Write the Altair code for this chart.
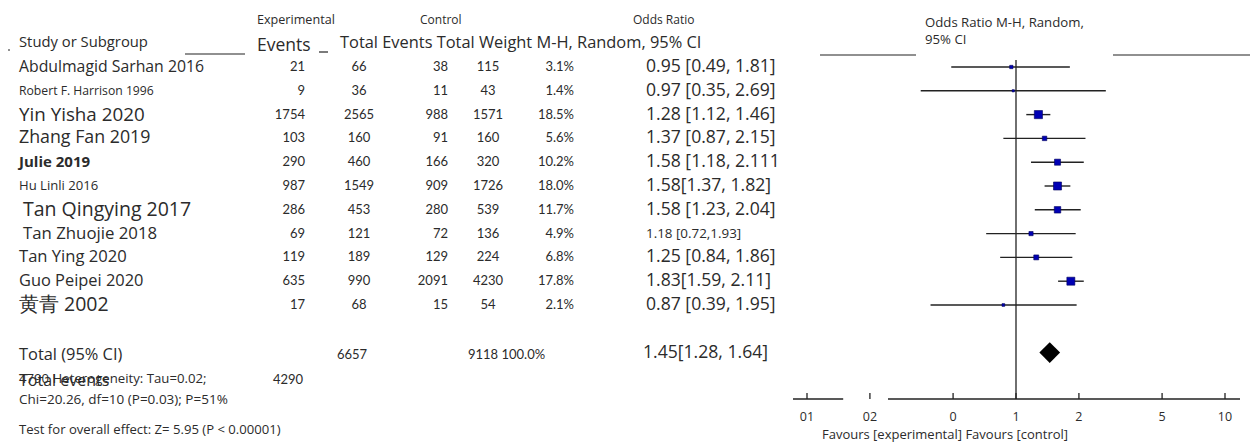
import altair as alt
import pandas as pd

# ---------------- data ----------------
studies = ["Abdulmagid Sarhan 2016", "Robert F. Harrison 1996", "Yin Yisha 2020", "Zhang Fan 2019",
           "Julie 2019", "Hu Linli 2016", "Tan Qingying 2017", "Tan Zhuojie 2018", "Tan Ying 2020",
           "Guo Peipei 2020", "黄青 2002"]
exp_events = [21, 9, 1754, 103, 290, 987, 286, 69, 119, 635, 17]
exp_total = [66, 36, 2565, 160, 460, 1549, 453, 121, 189, 990, 68]
ctl_events = [38, 11, 988, 91, 166, 909, 280, 72, 129, 2091, 15]
ctl_total = [115, 43, 1571, 160, 320, 1726, 539, 136, 224, 4230, 54]
weights = [3.1, 1.4, 18.5, 5.6, 10.2, 18.0, 11.7, 4.9, 6.8, 17.8, 2.1]
odds = [0.95, 0.97, 1.28, 1.37, 1.58, 1.58, 1.58, 1.18, 1.25, 1.83, 0.87]
ci_low = [0.49, 0.35, 1.12, 0.87, 1.18, 1.37, 1.23, 0.72, 0.84, 1.59, 0.39]
ci_high = [1.81, 2.69, 1.46, 2.15, 2.11, 1.82, 2.04, 1.93, 1.86, 2.11, 1.95]
or_labels = ["0.95 [0.49, 1.81]", "0.97 [0.35, 2.69]", "1.28 [1.12, 1.46]", "1.37 [0.87, 2.15]",
             "1.58 [1.18, 2.111", "1.58[1.37, 1.82]", "1.58 [1.23, 2.04]", "1.18 [0.72,1.93]",
             "1.25 [0.84, 1.86]", "1.83[1.59, 2.11]", "0.87 [0.39, 1.95]"]

total_exp_events = 4290
total_ctl_events = 4790
total_exp_total = 6657
total_ctl_total = 9118
total_or = 1.45
total_low = 1.28
total_high = 1.64
total_label = "1.45[1.28, 1.64]"

tick_values = [0.1, 0.2, 0.5, 1, 2, 5, 10]
tick_labels = ["01", "02", "0", "1", "2", "5", "10"]
axis_segments_from = [0.0857, 0.244]
axis_segments_to = [0.149, 11.8]

# ---------------- styles ----------------
FONT = "Open Sans"
NUMFONT = "Lato"
TXT = "#2b2b2b"
# (font size, weight, dx) for each study-name row
name_styles = [(15.8, "normal", 0), (12.2, "normal", 0), (18.8, "normal", 0), (17.8, "normal", 0),
               (15.0, "bold", 0), (13.1, "normal", 0), (19.5, "normal", 4), (16.8, "normal", 4),
               (16.6, "normal", 0), (16.4, "normal", 0), (19.5, "normal", 0)]
or_sizes = [17.6, 17.6, 17.6, 17.6, 17.6, 17.6, 17.6, 13.4, 17.6, 17.6, 17.6]

n = len(studies)
total_row = n + 2
df = pd.DataFrame({
    "row": list(range(1, n + 1)),
    "study": studies,
    "ee": [str(v) for v in exp_events],
    "et": [str(v) for v in exp_total],
    "ce": [str(v) for v in ctl_events],
    "ct": [str(v) for v in ctl_total],
    "w": [f"{v:.1f}%" for v in weights],
    "weight": weights,
    "or": odds,
    "lo": ci_low,
    "hi": ci_high,
    "orl": or_labels,
})
tot = pd.DataFrame({"row": [total_row], "or": [total_or], "lo": [total_low], "hi": [total_high],
                    "et": [str(total_exp_total)], "ctw": [f"{total_ctl_total} 100.0%"],
                    "orl": [total_label], "name": ["Total (95% CI)"]})

xs = alt.Scale(type="log", domain=[0.1, 10], range=[799, 1217])
ys = alt.Scale(domain=[1, total_row], range=[59, 344.6], zero=False, nice=False)
Y = alt.Y("row:Q", scale=ys, axis=None)


def col(data, field, x, align, size, font=NUMFONT, dy=0, weight="normal", dx=0):
    return alt.Chart(data).mark_text(align=align, baseline="middle", font=font, fontSize=size,
                                     color=TXT, dy=dy, dx=dx, fontWeight=weight).encode(
        x=alt.value(x), y=Y, text=f"{field}:N")


def label(text, x, y, size, align="left", font=FONT, weight="normal"):
    return alt.Chart(pd.DataFrame({"t": [text]})).mark_text(
        align=align, baseline="middle", font=font, fontSize=size, color=TXT, fontWeight=weight
    ).encode(x=alt.value(x), y=alt.value(y), text="t:N")


def hline(x1, x2, y, w=1.2):
    return alt.Chart(pd.DataFrame({"a": [0]})).mark_rule(color="#222", strokeWidth=w).encode(
        x=alt.value(x1), x2=alt.value(x2), y=alt.value(y))


layers = []
# headers
layers += [
    label("Experimental", 249, 12, 12.6),
    label("Control", 412, 12, 12),
    label("Odds Ratio", 625, 12, 12),
    label("Study or Subgroup", 11, 35, 14.8),
    label("Events", 249, 38, 17.5),
    label("Total Events Total Weight M-H, Random, 95% CI", 332, 35, 16.4),
    label("Odds Ratio M-H, Random,", 917, 15, 13.2),
    label("95% CI", 917, 32, 13.2),
    hline(0, 2, 42, 1),
    hline(177, 237, 46),
    hline(311, 320, 44),
    hline(812, 908, 47),
    hline(1105, 1242, 47),
]
# study table
for i, (fs, fw, dx) in enumerate(name_styles):
    sub = df[df["row"] == i + 1]
    layers.append(col(sub, "study", 11, "left", fs, font=FONT, weight=fw, dx=dx))
    layers.append(col(sub, "orl", 638, "left", or_sizes[i], font=FONT))
layers += [
    col(df, "ee", 297, "right", 13),
    col(df, "et", 351, "center", 13),
    col(df, "ce", 440, "right", 13),
    col(df, "ct", 480, "center", 13),
    col(df, "w", 566, "right", 13),
]
# totals
layers += [
    col(tot, "name", 11, "left", 16.4, font=FONT, dy=2),
    col(tot, "et", 344, "center", 13, dy=2),
    col(tot, "ctw", 460, "left", 13, dy=2),
    col(tot, "orl", 635, "left", 17.6, font=FONT),
    label(f"{total_ctl_events} Heterogeneity: Tau=0.02;", 11, 371, 13.2),
    label("Total events", 11, 373, 16),
    label(str(total_exp_events), 265, 372, 13, font=NUMFONT),
    label("Chi=20.26, df=10 (P=0.03); P=51%", 11, 392, 13.5),
    label("Test for overall effect: Z= 5.95 (P < 0.00001)", 11, 422, 13.1),
]
# forest plot
X = alt.X("or:Q", scale=xs, axis=None)
layers += [
    alt.Chart(pd.DataFrame({"v": [1]})).mark_rule(color="#222", strokeWidth=1.3).encode(
        x=alt.X("v:Q", scale=xs, axis=None), y=alt.value(52), y2=alt.value(391)),
    alt.Chart(df).mark_rule(color="#222", strokeWidth=1.4).encode(
        x=alt.X("lo:Q", scale=xs, axis=None), x2="hi:Q", y=Y),
    alt.Chart(df).mark_square(filled=True, color="#0000b4", stroke="#00005a", strokeWidth=0.6,
                              opacity=1).encode(
        x=X, y=Y, size=alt.Size("weight:Q", scale=alt.Scale(domain=[0, 20], range=[0, 72]), legend=None)),
    alt.Chart(tot).mark_point(shape="diamond", filled=True, color="black", size=430, opacity=1).encode(
        x=X, y=Y),
    # axis
    alt.Chart(pd.DataFrame({"a": axis_segments_from, "b": axis_segments_to})).mark_rule(
        color="#222", strokeWidth=1.3).encode(
        x=alt.X("a:Q", scale=xs, axis=None), x2="b:Q", y=alt.value(391)),
    alt.Chart(pd.DataFrame({"t": tick_values})).mark_rule(color="#222", strokeWidth=1.3).encode(
        x=alt.X("t:Q", scale=xs, axis=None), y=alt.value(385), y2=alt.value(391)),
    alt.Chart(pd.DataFrame({"t": tick_values, "l": tick_labels})).mark_text(
        baseline="middle", align="center", font=FONT, fontSize=12.5, color=TXT).encode(
        x=alt.X("t:Q", scale=xs, axis=None), y=alt.value(409), text="l:N"),
    label("Favours [experimental] Favours [control]", 814, 427, 13),
]

chart = alt.layer(*layers).properties(
    width=1242, height=434, padding=0, autosize=alt.AutoSizeParams(type="none")
).configure_view(stroke=None)

chart.save("out.html", embed_options={"renderer": "svg", "actions": False})
